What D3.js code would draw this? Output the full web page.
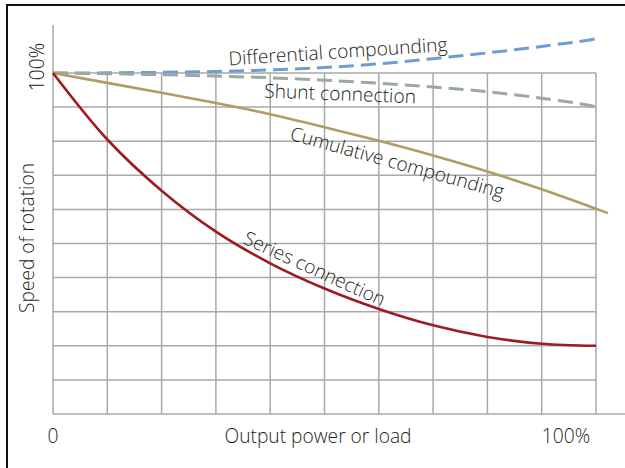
<!DOCTYPE html>
<html>
<head>
<meta charset="utf-8">
<script src="https://cdn.jsdelivr.net/npm/d3@7"></script>
<style>
  html, body { margin: 0; padding: 0; background: #fff; }
  svg { display: block; }
  text { font-family: "Open Sans", "Noto Sans", sans-serif; fill: #231f20; }
</style>
</head>
<body>
<svg id="chart" width="625" height="468"></svg>
<script>
// ---- data (load in % of rated, speed in % of rated) ----
const loadPct      = [0, 10, 20, 30, 40, 50, 60, 70, 80, 90, 100];
const seriesConn   = [100, 80.5, 65.5, 53.5, 44.2, 36.8, 30.8, 26.0, 22.6, 20.6, 20.0];
const cumulative   = [100, 97.1, 94.2, 91.2, 87.9, 84.1, 80.1, 75.8, 71.1, 65.9, 60.2];
const shuntConn    = [100, 99.8, 99.5, 99.1, 98.6, 97.9, 97.0, 95.9, 94.5, 92.6, 90.1];
const differential = [100, 100.05, 100.2, 100.45, 100.9, 101.6, 102.7, 104.2, 105.9, 107.8, 110.1];
// curve tails drawn slightly past the 100% load line
const cumulativeTail   = [102.2, 58.9];
const shuntTail        = [100.7, 89.6];
const differentialTail = [100.7, 110.6];

const gridX = d3.range(0, 101, 10);
const gridY = d3.range(0, 101, 10);
const xTickLabels = ["0", "100%"];
const yTickLabel = "100%";
const xTitle = "Output power or load";
const yTitle = "Speed of rotation";
const curveLabels = ["Differential compounding", "Shunt connection", "Cumulative compounding", "Series connection"];

// ---- layout ----
const FS = 19.2;
const svg = d3.select("#chart");
const x = d3.scaleLinear().domain([0, 100]).range([53, 596]);
const y = d3.scaleLinear().domain([0, 100]).range([414, 73]);

// frame
svg.append("rect").attr("x", 7).attr("y", 5).attr("width", 700).attr("height", 600)
  .attr("fill", "none").attr("stroke", "#111").attr("stroke-width", 2);

// grid
const grid = svg.append("g").attr("stroke", "#a9a9a9").attr("stroke-width", 1.5);
grid.selectAll("line.v").data(gridX).join("line")
  .attr("x1", d => x(d)).attr("x2", d => x(d))
  .attr("y1", d => d === 0 ? 25 : y(100)).attr("y2", y(0));
grid.selectAll("line.h").data(gridY).join("line")
  .attr("x1", x(0)).attr("x2", d => d === 0 ? 640 : x(100))
  .attr("y1", d => y(d)).attr("y2", d => y(d));

// curves
const line = d3.line().x(d => x(d[0])).y(d => y(d[1])).curve(d3.curveCatmullRom.alpha(0.5));
const pts = (vals, tail) => {
  const p = loadPct.map((l, i) => [l, vals[i]]);
  if (tail) p.push(tail);
  return p;
};

svg.append("path").datum(pts(differential, differentialTail)).attr("d", line)
  .attr("fill", "none").attr("stroke", "#6e9dd1").attr("stroke-width", 3)
  .attr("stroke-dasharray", "15,7");
svg.append("path").datum(pts(shuntConn, shuntTail)).attr("d", line)
  .attr("fill", "none").attr("stroke", "#9aaa9f").attr("stroke-width", 3)
  .attr("stroke-dasharray", "15,7");
svg.append("path").datum(pts(cumulative, cumulativeTail)).attr("d", line)
  .attr("fill", "none").attr("stroke", "#b19c62").attr("stroke-width", 2.6);
svg.append("path").datum(pts(seriesConn)).attr("d", line)
  .attr("fill", "none").attr("stroke", "#9e1b22").attr("stroke-width", 2.6);

// curve labels
const labelPos = [
  { x: 229, y: 65.5, r: -3.8 },
  { x: 264, y: 97.5, r: 2.2 },
  { x: 289, y: 139.5, r: 15.5 },
  { x: 242, y: 243, r: 24.5 }
];
svg.selectAll("text.curve").data(curveLabels).join("text")
  .attr("class", "curve")
  .attr("transform", (d, i) => `translate(${labelPos[i].x},${labelPos[i].y}) rotate(${labelPos[i].r})`)
  .attr("font-size", FS).attr("font-weight", 300)
  .text(d => d);

// axis labels
svg.append("text").attr("x", x(0)).attr("y", 443).attr("text-anchor", "middle")
  .attr("font-size", FS).attr("font-weight", 300).text(xTickLabels[0]);
svg.append("text").attr("x", 566).attr("y", 443).attr("text-anchor", "middle")
  .attr("font-size", FS).attr("font-weight", 300).text(xTickLabels[1]);
svg.append("text").attr("x", 318).attr("y", 443).attr("text-anchor", "middle")
  .attr("font-size", FS).attr("font-weight", 300).text(xTitle);
svg.append("text").attr("transform", `translate(44,${y(100) - 6}) rotate(-90)`)
  .attr("text-anchor", "middle").attr("font-size", FS).attr("font-weight", 300).text(yTickLabel);
svg.append("text").attr("transform", "translate(34,238) rotate(-90)")
  .attr("text-anchor", "middle").attr("font-size", FS).attr("font-weight", 300).text(yTitle);
</script>
</body>
</html>
